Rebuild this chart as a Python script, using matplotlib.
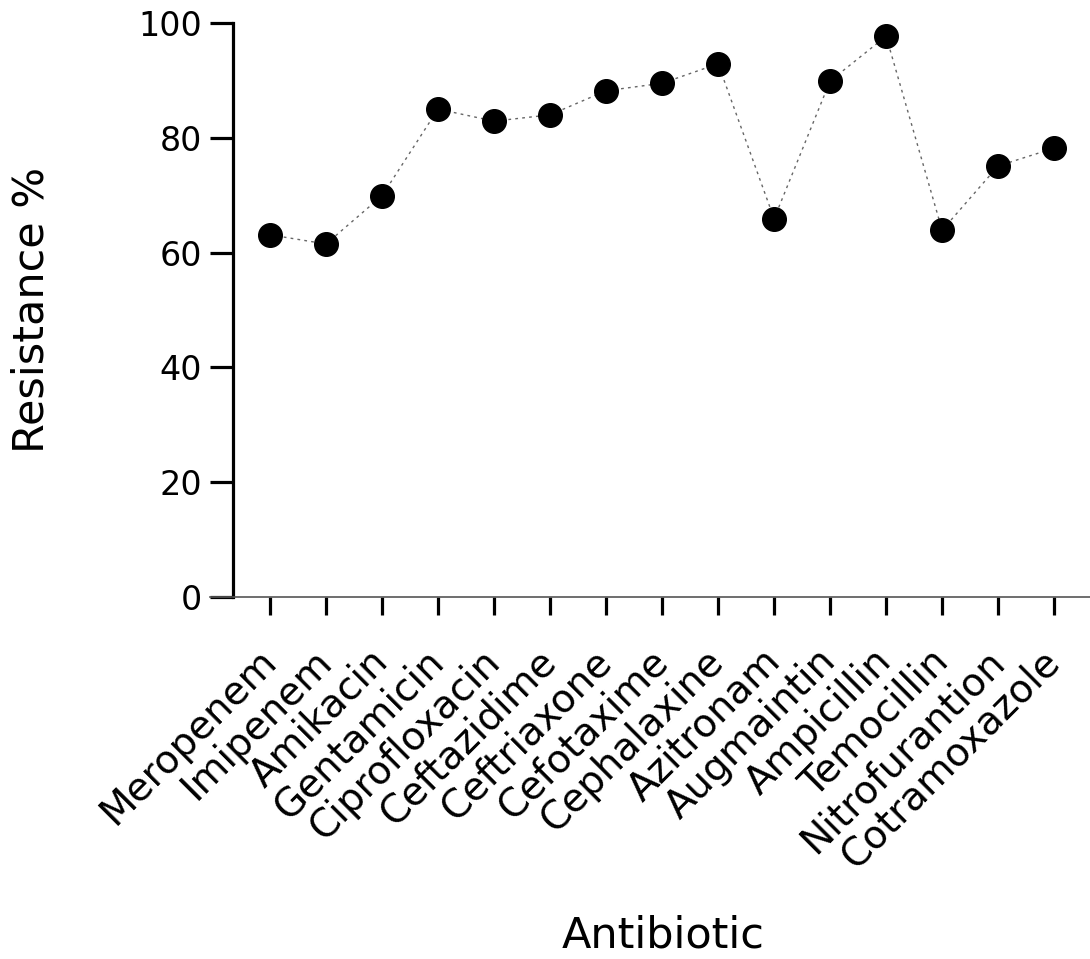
import matplotlib
matplotlib.use("Agg")
import matplotlib.pyplot as plt
from matplotlib.lines import Line2D

antibiotics = ["Meropenem", "Imipenem", "Amikacin", "Gentamicin", "Ciprofloxacin",
               "Ceftazidime", "Ceftriaxone", "Cefotaxime", "Cephalaxine", "Azitronam",
               "Augmaintin", "Ampicillin", "Temocillin", "Nitrofurantion", "Cotramoxazole"]
resistance = [63.1, 61.5, 69.9, 85.0, 82.9, 84.0, 88.2, 89.5, 92.9, 65.9,
              89.9, 97.7, 63.9, 75.1, 78.2]
yticks = [0, 20, 40, 60, 80, 100]

plt.rcParams['font.family'] = ['DejaVu Sans']

fig = plt.figure(figsize=(10.9, 9.59), dpi=100)
ax = fig.add_axes([0.2138, 0.3775, 0.7862, 0.5985])

x = list(range(len(antibiotics)))
ax.plot(x, resistance, linestyle=(0, (2, 3)), color='#666666', linewidth=1.0, zorder=2)
ax.plot(x, resistance, linestyle='none', marker='o', markersize=17,
        color='black', zorder=3)

ax.set_xlim(-0.66, 14.64)
ax.set_ylim(0, 100)
ax.set_yticks(yticks)
ax.set_yticklabels([str(v) for v in yticks])
ax.set_xticks(x)
ax.set_xticklabels(antibiotics, rotation=45, ha='right', va='center',
                   rotation_mode='anchor')

for s in ['top', 'right']:
    ax.spines[s].set_visible(False)
ax.spines['left'].set_linewidth(2.3)
ax.spines['bottom'].set_linewidth(1.2)
ax.spines['bottom'].set_color('#555555')

ax.tick_params(axis='y', length=16.5, width=2.3, labelsize=24, pad=6, direction='out')
ax.tick_params(axis='x', length=13, width=2.3, labelsize=28, pad=29, direction='out')

# extend baseline slightly left of the y spine
ax.add_line(Line2D([-0.027, 0], [0, 0], transform=ax.transAxes, color='#555555',
                   linewidth=1.2, clip_on=False))

ax.set_ylabel('Resistance %', fontsize=31)
ax.yaxis.set_label_coords(-0.211, 0.5)
ax.set_xlabel('Antibiotic', fontsize=31)
ax.xaxis.set_label_coords(0.502, -0.553)

fig.savefig('out.png', dpi=100)
